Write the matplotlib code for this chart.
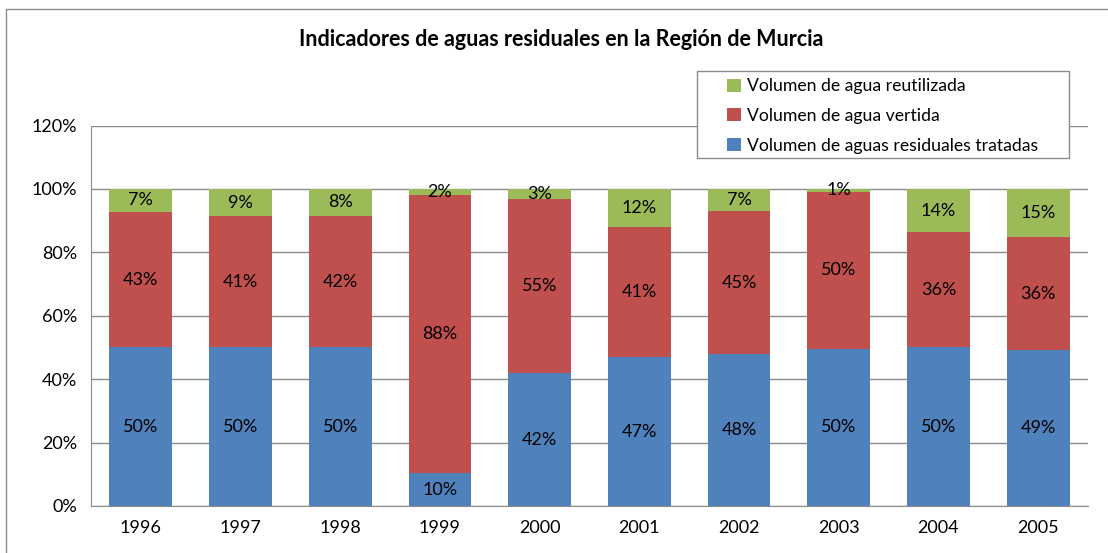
import matplotlib.pyplot as plt
from matplotlib.patches import Rectangle

years = ['1996', '1997', '1998', '1999', '2000', '2001', '2002', '2003', '2004', '2005']
tratadas = [50.0, 50.0, 50.0, 10.4, 41.8, 46.9, 47.8, 49.6, 50.0, 49.1]
vertida = [42.8, 41.4, 41.6, 87.7, 55.0, 41.1, 45.3, 49.5, 36.3, 35.8]
reutilizada = [7.2, 8.6, 8.4, 1.9, 3.2, 12.0, 6.9, 0.9, 13.7, 15.1]

plt.rcParams['font.family'] = ['Lato', 'DejaVu Sans']

fig = plt.figure(figsize=(11.08, 5.53), dpi=100)
ax = fig.add_axes([91/1108, 47/553, 997/1108, 380.5/553])

x = range(len(years))
w = 0.63
series = [
    (tratadas, '#4F81BD', 'Volumen de aguas residuales tratadas'),
    (vertida, '#C0504D', 'Volumen de agua vertida'),
    (reutilizada, '#9BBB59', 'Volumen de agua reutilizada'),
]
bottom = [0.0] * len(years)
handles = []
for vals, color, label in series:
    b = ax.bar(x, vals, w, bottom=bottom, color=color, label=label, zorder=2)
    handles.append(b)
    for i, v in enumerate(vals):
        ax.text(i, bottom[i] + v / 2, '%d%%' % round(v), ha='center', va='center',
                fontsize=13, color='black', zorder=3)
    bottom = [bt + v for bt, v in zip(bottom, vals)]

ax.set_xlim(-0.5, len(years) - 0.5)
ax.set_ylim(0, 120)
ax.set_yticks(range(0, 121, 20))
ax.set_yticklabels(['%d%%' % t for t in range(0, 121, 20)], fontsize=13)
ax.set_xticks(list(x))
ax.set_xticklabels(years, fontsize=13)
ax.tick_params(length=0, pad=10)
ax.yaxis.grid(True, color='#8c8c8c', linewidth=1, zorder=0)
ax.set_axisbelow(True)
for s in ['top', 'right']:
    ax.spines[s].set_visible(False)
for s in ['left', 'bottom']:
    ax.spines[s].set_color('#8c8c8c')

fig.text(561/1108, 1 - 40/553, 'Indicadores de aguas residuales en la Región de Murcia',
         ha='center', va='center', fontsize=15.5, fontweight='bold')

# legend box drawn by hand, legend itself without frame
fig.patches.append(Rectangle((697/1108, 1 - 158/553), 372/1108, 87/553,
                             transform=fig.transFigure, facecolor='white',
                             edgecolor='#8c8c8c', linewidth=1, zorder=5))
leg = fig.legend(handles[::-1], [h.get_label() for h in handles[::-1]],
                 loc='upper left', bbox_to_anchor=(722/1108, 1 - 73/553),
                 fontsize=12.7, frameon=False, handlelength=0.75,
                 handleheight=0.75, handletextpad=0.35, borderpad=0.3,
                 labelspacing=0.78, borderaxespad=0)
leg.set_zorder(6)

fig.patches.append(Rectangle((6/1108, -0.05), 1.1, 1 - 9/553 + 0.05, transform=fig.transFigure,
                             fill=False, edgecolor='#8c8c8c', linewidth=1))

fig.savefig('out.png', dpi=100)
